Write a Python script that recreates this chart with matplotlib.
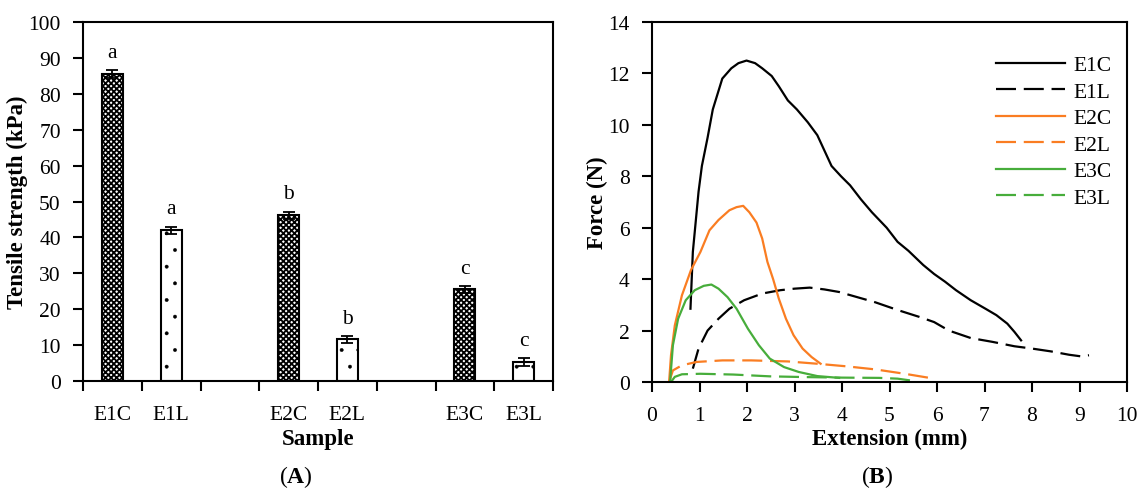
import numpy as np
import matplotlib
matplotlib.use('Agg')
import matplotlib.pyplot as plt

plt.rcParams['font.family'] = ['Liberation Serif', 'DejaVu Serif']
plt.rcParams['mathtext.fontset'] = 'custom'
plt.rcParams['mathtext.rm'] = 'Liberation Serif'
plt.rcParams['mathtext.bf'] = 'Liberation Serif:bold'

# # Panel A data
samples = ['E1C', 'E1L', 'E2C', 'E2L', 'E3C', 'E3L']
strength = [85.5, 42.0, 46.2, 11.6, 25.5, 5.3]
strength_err = [1.0, 1.0, 1.0, 1.0, 1.0, 1.0]
letters = ['a', 'a', 'b', 'b', 'c', 'c']

# # Panel B data (extension mm, force N)
e1c_x = [0.81, 0.86, 0.98, 1.05, 1.17, 1.28, 1.48, 1.67, 1.82, 1.99, 2.17, 2.32, 2.52, 2.67, 2.86,
         3.05, 3.28, 3.48, 3.78, 3.98, 4.17, 4.40, 4.63, 4.94, 5.17, 5.40, 5.71, 5.94, 6.17, 6.40,
         6.71, 7.02, 7.25, 7.48, 7.63, 7.77]
e1c_y = [2.85, 5.06, 7.4, 8.4, 9.5, 10.6, 11.8, 12.2, 12.4, 12.5, 12.4, 12.2, 11.9, 11.5, 10.95,
         10.6, 10.1, 9.6, 8.4, 8.0, 7.65, 7.1, 6.6, 6.0, 5.45, 5.1, 4.55, 4.2, 3.9, 3.57,
         3.18, 2.85, 2.6, 2.27, 1.95, 1.62]
e1l_x = [0.86, 0.98, 1.17, 1.40, 1.63, 1.94, 2.32, 2.70, 3.00, 3.32, 3.63, 3.94, 4.32, 4.70, 5.17,
         5.63, 5.94, 6.25, 6.71, 7.17, 7.63, 8.00, 8.40, 8.78, 9.02, 9.20]
e1l_y = [0.52, 1.3, 2.0, 2.46, 2.85, 3.18, 3.44, 3.57, 3.63, 3.67, 3.6, 3.5, 3.3, 3.1, 2.8,
         2.53, 2.33, 2.0, 1.71, 1.56, 1.39, 1.3, 1.19, 1.06, 1.0, 1.04]
e2c_x = [0.36, 0.40, 0.48, 0.63, 0.82, 1.02, 1.21, 1.40, 1.63, 1.78, 1.92, 2.05, 2.20, 2.32, 2.43,
         2.55, 2.67, 2.82, 2.98, 3.17, 3.36, 3.55]
e2c_y = [0.0, 1.04, 2.2, 3.37, 4.35, 5.06, 5.9, 6.3, 6.68, 6.8, 6.85, 6.6, 6.2, 5.58, 4.67,
         4.0, 3.24, 2.46, 1.82, 1.3, 0.97, 0.71]
e2l_x = [0.36, 0.44, 0.63, 0.94, 1.48, 2.09, 2.86, 3.48, 4.09, 4.70, 5.32, 5.94]
e2l_y = [0.0, 0.45, 0.65, 0.78, 0.84, 0.84, 0.8, 0.71, 0.61, 0.49, 0.32, 0.13]
e3c_x = [0.38, 0.44, 0.55, 0.71, 0.90, 1.09, 1.25, 1.40, 1.59, 1.78, 2.02, 2.25, 2.48, 2.78, 3.09,
         3.48, 3.94]
e3c_y = [0.0, 1.43, 2.46, 3.18, 3.57, 3.74, 3.79, 3.63, 3.3, 2.85, 2.07, 1.43, 0.91, 0.58, 0.39,
         0.23, 0.16]
e3l_x = [0.40, 0.48, 0.63, 1.02, 1.71, 2.48, 3.25, 4.02, 4.78, 5.17, 5.44]
e3l_y = [0.0, 0.2, 0.3, 0.32, 0.29, 0.22, 0.19, 0.17, 0.16, 0.13, 0.06]

orange = '#FA7D22'
green = '#47AD3B'
fs = 15.5

fig = plt.figure(figsize=(11.41, 4.89), dpi=100)
axA = fig.add_axes([83/1141, 1-382/489, 470/1141, 359/489])
axB = fig.add_axes([652/1141, 1-383/489, 475/1141, 360/489])

# # Panel A: bars
pos = [g*3 + k for g in range(3) for k in range(2)]
for i in range(len(samples)):
    if samples[i].endswith('C'):
        plt.rcParams['hatch.linewidth'] = 1.3
        hatch = 'xxxxxx'
    else:
        plt.rcParams['hatch.linewidth'] = 0.3
        hatch = '.'
    axA.bar(pos[i], strength[i], width=0.36, color='white', edgecolor='black',
            linewidth=1.5, hatch=hatch, zorder=2)
    axA.errorbar(pos[i], strength[i], yerr=strength_err[i], color='black',
                 capsize=4, elinewidth=1.3, capthick=1.3, zorder=3)
    axA.text(pos[i], strength[i] + strength_err[i] + 2.3, letters[i], ha='center',
             va='bottom', fontsize=fs)
axA.set_xlim(-0.5, 7.5)
axA.set_ylim(0, 100)
axA.set_yticks(np.arange(0, 101, 10))
axA.set_xticks(np.arange(-0.5, 8, 1))
axA.set_xticklabels([])
axA.set_xticks(pos, minor=True)
axA.set_xticklabels(samples, minor=True)
axA.tick_params(axis='x', which='minor', length=0, pad=17)
axA.tick_params(which='major', direction='out', length=7, width=1.5, labelsize=fs)
axA.tick_params(axis='y', pad=9)
axA.tick_params(which='minor', labelsize=fs)
axA.set_ylabel('Tensile strength (kPa)', fontsize=16.5, fontweight='bold', labelpad=0)
axA.set_xlabel('Sample', fontsize=16.5, fontweight='bold', labelpad=3)

# # Panel B: force curves
axB.plot(e1c_x, e1c_y, color='black', lw=1.6, label='E1C')
axB.plot(e1l_x, e1l_y, color='black', lw=1.6, ls=(0, (9, 3.5)), label='E1L')
axB.plot(e2c_x, e2c_y, color=orange, lw=1.6, label='E2C')
axB.plot(e2l_x, e2l_y, color=orange, lw=1.6, ls=(0, (9, 3.5)), label='E2L')
axB.plot(e3c_x, e3c_y, color=green, lw=1.6, label='E3C')
axB.plot(e3l_x, e3l_y, color=green, lw=1.6, ls=(0, (9, 3.5)), label='E3L')
axB.set_xlim(0, 10)
axB.set_ylim(0, 14)
axB.set_xticks(np.arange(0, 11, 1))
axB.set_yticks(np.arange(0, 15, 2))
axB.tick_params(direction='out', length=7, width=1.5, labelsize=fs)
axB.tick_params(axis='x', pad=10)
axB.tick_params(axis='y', pad=9)
axB.set_xlabel('Extension (mm)', fontsize=16.5, fontweight='bold', labelpad=2)
axB.set_ylabel('Force (N)', fontsize=16.5, fontweight='bold', labelpad=0)
axB.legend(loc='upper right', bbox_to_anchor=(1.0, 0.95), frameon=False, fontsize=fs,
           handlelength=3.2, labelspacing=0.3, handletextpad=0.4, borderaxespad=0.3)

for ax in (axA, axB):
    for s in ax.spines.values():
        s.set_linewidth(1.5)

fig.text(296/1141, 1-477/489, r'($\mathbf{A}$)', ha='center', va='center', fontsize=17)
fig.text(877/1141, 1-477/489, r'($\mathbf{B}$)', ha='center', va='center', fontsize=17)

fig.savefig('out.png', dpi=100)
